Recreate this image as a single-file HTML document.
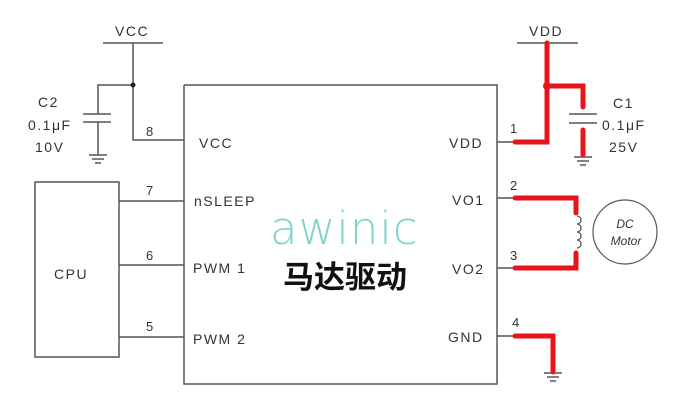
<!DOCTYPE html>
<html><head><meta charset="utf-8"><style>
html,body{margin:0;padding:0;background:#fff;width:674px;height:407px;overflow:hidden}
</style></head><body>
<svg width="674" height="407" xmlns="http://www.w3.org/2000/svg" font-family="Liberation Sans, sans-serif">
<g stroke="#555" stroke-width="1.5" fill="none">
<!-- chip -->
<polyline points="184,85 497,85 497,384 184,384 184,85"/>
<!-- CPU -->
<rect x="35" y="182" width="84" height="175"/>
<line x1="119" y1="201" x2="184" y2="201"/>
<line x1="119" y1="265" x2="184" y2="265"/>
<line x1="119" y1="337" x2="184" y2="337"/>
<!-- VCC -->
<line x1="103" y1="43" x2="163" y2="43"/>
<polyline points="133,43 133,140 184,140"/>
<polyline points="133,85 98,85 98,114"/>
<line x1="83" y1="114" x2="111" y2="114"/>
<line x1="83" y1="122" x2="111" y2="122"/>
<line x1="98" y1="122" x2="98" y2="155"/>
<line x1="89" y1="155" x2="107" y2="155"/>
<line x1="92" y1="159" x2="104" y2="159"/>
<line x1="95" y1="163" x2="101" y2="163"/>
<!-- VDD -->
<line x1="517" y1="43" x2="578" y2="43"/>
<line x1="497" y1="142" x2="515" y2="142"/>
<line x1="497" y1="198" x2="515" y2="198"/>
<line x1="497" y1="268" x2="515" y2="268"/>
<line x1="497" y1="336" x2="515" y2="336"/>
<line x1="569" y1="114" x2="597" y2="114"/>
<line x1="569" y1="123" x2="597" y2="123"/>
<line x1="574" y1="157" x2="592" y2="157"/>
<line x1="577" y1="161" x2="589" y2="161"/>
<line x1="580" y1="165" x2="586" y2="165"/>
<line x1="544" y1="373" x2="562" y2="373"/>
<line x1="547" y1="377" x2="559" y2="377"/>
<line x1="550" y1="381" x2="556" y2="381"/>
<circle cx="625" cy="232" r="32" stroke-width="1.2"/>
<path d="M577,216 a4,4 0 0 1 0,8 a4,4 0 0 1 0,8 a4,4 0 0 1 0,8 a4,4 0 0 1 0,8" stroke-width="1.3"/>
</g>
<circle cx="133" cy="85" r="2.5" fill="#222"/>
<g stroke="#e8141b" stroke-width="5" fill="none" stroke-linejoin="miter" stroke-linecap="round">
<polyline points="515,142 547,142 547,43"/>
<polyline points="547,86 583,86 583,107"/>
<line x1="583" y1="130" x2="583" y2="155"/>
<polyline points="515,198 576,198 576,213"/>
<polyline points="515,268 576,268 576,253"/>
<polyline points="515,336 553,336 553,372"/>
</g>
<circle cx="547" cy="86" r="4" fill="#e8141b"/>
<g fill="#333" font-size="14" letter-spacing="1.5">
<text x="115" y="36">VCC</text>
<text x="38" y="107">C2</text>
<text x="28" y="130">0.1μF</text>
<text x="35" y="152">10V</text>
<text x="146" y="136" font-size="13">8</text>
<text x="146" y="195" font-size="13">7</text>
<text x="146" y="260" font-size="13">6</text>
<text x="146" y="331" font-size="13">5</text>
<text x="54" y="279">CPU</text>
<text x="199" y="148">VCC</text>
<text x="194" y="206">nSLEEP</text>
<text x="193" y="273">PWM 1</text>
<text x="193" y="344">PWM 2</text>
<text x="529" y="36">VDD</text>
<text x="613" y="108">C1</text>
<text x="602" y="130">0.1μF</text>
<text x="609" y="152">25V</text>
<text x="449" y="148">VDD</text>
<text x="452" y="205">VO1</text>
<text x="452" y="274">VO2</text>
<text x="448" y="342">GND</text>
<text x="510" y="133" font-size="13">1</text>
<text x="510" y="190" font-size="13">2</text>
<text x="510" y="260" font-size="13">3</text>
<text x="512" y="327" font-size="13">4</text>
</g>
<g fill="#333" font-size="12" font-style="italic" text-anchor="middle">
<text x="625" y="228">DC</text>
<text x="626" y="245">Motor</text>
</g>
<text x="270" y="244" font-size="45" fill="#7fd4c9" font-family="DejaVu Sans, sans-serif" font-weight="300" letter-spacing="1">awinic</text>
<text x="283" y="288" font-size="31" font-weight="bold" fill="#111" font-family="Liberation Sans, Noto Sans CJK SC, sans-serif">马达驱动</text>
</svg>
</body></html>
